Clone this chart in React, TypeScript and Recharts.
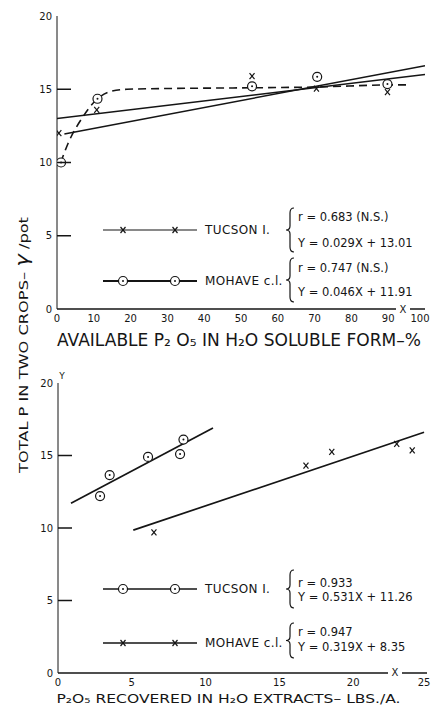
import React from 'react'
import { ComposedChart, Line, Scatter, XAxis, YAxis, Legend } from 'recharts'

// top panel: % of available P2O5 in water soluble form
const topPctTucson = [0.5, 10.8, 53, 70.5, 89.8]
const topTotalTucson = [12.0, 13.6, 15.9, 15.05, 14.8]
const topPctMohave = [1.1, 11, 53, 70.7, 89.8]
const topTotalMohave = [10.0, 14.35, 15.2, 15.85, 15.35]
const topFitTucsonX = [0, 100]
const topFitTucsonY = [13.0, 16.0]
const topFitMohaveX = [2, 100]
const topFitMohaveY = [11.95, 16.6]
const topCurveX = [1, 3, 7, 11, 14.5, 19, 30, 53, 70, 92.5, 95]
const topCurveY = [10, 11.3, 13.1, 14.35, 14.85, 15.0, 15.05, 15.1, 15.15, 15.3, 15.3]

// bottom panel: P2O5 recovered in water extracts, lbs/acre
const botLbsTucson = [2.85, 3.5, 6.1, 8.27, 8.5]
const botTotalTucson = [12.2, 13.65, 14.9, 15.1, 16.1]
const botLbsMohave = [6.5, 16.8, 18.55, 22.95, 24.0]
const botTotalMohave = [9.7, 14.3, 15.25, 15.8, 15.35]
const botFitTucsonX = [0.88, 10.5]
const botFitTucsonY = [11.7, 16.9]
const botFitMohaveX = [5.1, 24.8]
const botFitMohaveY = [9.85, 16.6]

const topXTicks = [0, 10, 20, 30, 40, 50, 60, 70, 80, 90, 100]
const botXTicks = [0, 5, 10, 15, 20, 25]
const yTicks = [0, 5, 10, 15, 20]
const innerYTicks = [5, 10, 15]

const pts = (xs: number[], ys: number[]) => xs.map((x, i) => ({ x, y: ys[i] }))

const INK = '#151515'
const FONT = '"DejaVu Sans", sans-serif'

const XMark = (p: any) => (
  <g stroke={INK} strokeWidth={1.2}>
    <line x1={p.cx - 2.5} y1={p.cy - 3} x2={p.cx + 2.5} y2={p.cy + 3} />
    <line x1={p.cx - 2.5} y1={p.cy + 3} x2={p.cx + 2.5} y2={p.cy - 3} />
  </g>
)

const OMark = (p: any) => (
  <g>
    <circle cx={p.cx} cy={p.cy} r={4.5} fill="#fff" stroke={INK} strokeWidth={1.2} />
    <circle cx={p.cx} cy={p.cy} r={1} fill={INK} />
  </g>
)

const LeftTick = (p: any) => (
  <g>
    <text x={p.x} y={p.y} dy="0.35em" textAnchor="end" fontSize={10} fontFamily={FONT} fill={INK}>
      {p.payload.value}
    </text>
    {p.payload.value > 0 && p.payload.value < 20 && (
      <line x1={p.x + 5} x2={p.x + 19} y1={p.y} y2={p.y} stroke={INK} strokeWidth={1.5} />
    )}
  </g>
)

const RightTick = (p: any) => (
  <line x1={p.x - 15} x2={p.x} y1={p.y} y2={p.y} stroke={INK} strokeWidth={1.5} />
)

const BottomTick = (p: any) => (
  <text x={p.x} y={p.y} dy="0.35em" textAnchor="middle" fontSize={10} fontFamily={FONT} fill={INK}>
    {p.payload.value}
  </text>
)

const Brace = ({ x, y0, y1 }: { x: number; y0: number; y1: number }) => {
  const m = (y0 + y1) / 2
  return (
    <path
      d={`M${x + 4},${y0} Q${x},${y0} ${x},${y0 + 5} L${x},${m - 4} Q${x},${m} ${x - 4},${m} Q${x},${m} ${x},${m + 4} L${x},${y1 - 5} Q${x},${y1} ${x + 4},${y1}`}
      fill="none"
      stroke={INK}
      strokeWidth={1.2}
    />
  )
}

type Row = { name: string; y: number; mark: 'x' | 'o'; width: number; r: string; eq: string; ry: number; ey: number; b0: number; b1: number }

const topRows: Row[] = [
  { name: 'TUCSON I.', y: 230, mark: 'x', width: 1.1, r: 'r = 0.683 (N.S.)', eq: 'Y = 0.029X + 13.01', ry: 217, ey: 243, b0: 208, b1: 252 },
  { name: 'MOHAVE c.l.', y: 281, mark: 'o', width: 2, r: 'r = 0.747 (N.S.)', eq: 'Y = 0.046X + 11.91', ry: 268, ey: 292, b0: 258, b1: 302 },
]
const botRows: Row[] = [
  { name: 'TUCSON I.', y: 239, mark: 'o', width: 1.6, r: 'r = 0.933', eq: 'Y = 0.531X + 11.26', ry: 233, ey: 247, b0: 220, b1: 258 },
  { name: 'MOHAVE c.l.', y: 293, mark: 'x', width: 1.6, r: 'r = 0.947', eq: 'Y = 0.319X + 8.35', ry: 282, ey: 297, b0: 273, b1: 308 },
]

const Key = ({ rows, w, h, axisX, axisY }: { rows: Row[]; w: number; h: number; axisX: [number, number]; axisY?: [number, number] }) => (
  <svg width={w} height={h} style={{ display: 'block' }}>
    {rows.map((row) => (
      <g key={row.name}>
        <line x1={103} x2={197} y1={row.y} y2={row.y} stroke={INK} strokeWidth={row.width} />
        {[123, 175].map((cx) => (row.mark === 'x' ? <XMark key={cx} cx={cx} cy={row.y} /> : <OMark key={cx} cx={cx} cy={row.y} />))}
        <text x={205} y={row.y} dy="0.35em" fontSize={12} fontFamily={FONT} fill={INK} letterSpacing={0.4}>{row.name}</text>
        <Brace x={290} y0={row.b0} y1={row.b1} />
        <text x={298} y={row.ry} dy="0.35em" fontSize={11.5} fontFamily={FONT} fill={INK}>{row.r}</text>
        <text x={298} y={row.ey} dy="0.35em" fontSize={11.5} fontFamily={FONT} fill={INK}>{row.eq}</text>
      </g>
    ))}
    <rect x={axisX[0] - 7} y={axisX[1] - 4} width={14} height={8} fill="#fff" />
    <text x={axisX[0]} y={axisX[1]} dy="0.35em" textAnchor="middle" fontSize={10} fontFamily={FONT} fill={INK}>X</text>
    {axisY && (
      <text x={axisY[0]} y={axisY[1]} dy="0.35em" textAnchor="middle" fontSize={9} fontFamily={FONT} fill={INK}>Y</text>
    )}
  </svg>
)

const TopTitle = (p: any) => {
  const vb = p.viewBox
  return (
    <text x={vb.x + vb.width / 2 - 2} y={vb.y + 31} dy="0.35em" textAnchor="middle" fontSize={17} fontFamily={FONT} fill={INK} textLength={364} lengthAdjust="spacingAndGlyphs">
      AVAILABLE P₂ O₅ IN H₂O SOLUBLE FORM–%
    </text>
  )
}

const BotTitle = (p: any) => {
  const vb = p.viewBox
  return (
    <text x={vb.x + vb.width / 2 - 14} y={vb.y + 25} dy="0.35em" textAnchor="middle" fontSize={13} fontFamily={FONT} fill={INK} textLength={344} lengthAdjust="spacingAndGlyphs">
      P₂O₅ RECOVERED IN H₂O EXTRACTS– LBS./A.
    </text>
  )
}

export default function App() {
  return (
    <div style={{ position: 'absolute', left: 0, top: 0, width: 432, height: 708, background: '#fff' }}>
      <div style={{ position: 'absolute', left: 0, top: 0 }}>
        <ComposedChart width={432} height={350} margin={{ top: 16, right: 7, bottom: 11, left: 17 }}>
          <XAxis xAxisId="b" type="number" dataKey="x" domain={[0, 100]} ticks={topXTicks} allowDataOverflow
            tickSize={0} tickMargin={9} tick={<BottomTick />} height={30} stroke={INK} strokeWidth={1.5}
            label={<TopTitle />} />
          <XAxis xAxisId="t" orientation="top" type="number" dataKey="x" domain={[0, 100]} tick={false} height={0} stroke={INK} strokeWidth={1.5} />
          <YAxis yAxisId="l" type="number" domain={[0, 20]} ticks={yTicks} width={40} tickSize={0} tickMargin={5} tick={<LeftTick />} stroke={INK} strokeWidth={1} />
          <YAxis yAxisId="r" orientation="right" type="number" domain={[0, 20]} ticks={innerYTicks} width={0} tickSize={0} tickMargin={0} tick={<RightTick />} stroke={INK} strokeWidth={1.2} />
          <Line xAxisId="b" yAxisId="l" data={pts(topFitTucsonX, topFitTucsonY)} dataKey="y" stroke={INK} strokeWidth={1.5} dot={false} isAnimationActive={false} />
          <Line xAxisId="b" yAxisId="l" data={pts(topFitMohaveX, topFitMohaveY)} dataKey="y" stroke={INK} strokeWidth={1.5} dot={false} isAnimationActive={false} />
          <Line xAxisId="b" yAxisId="l" type="monotone" data={pts(topCurveX, topCurveY)} dataKey="y" stroke={INK} strokeWidth={1.6} strokeDasharray="8 5" dot={false} isAnimationActive={false} />
          <Scatter xAxisId="b" yAxisId="l" name="TUCSON I." data={pts(topPctTucson, topTotalTucson)} dataKey="y" shape={<XMark />} isAnimationActive={false} />
          <Scatter xAxisId="b" yAxisId="l" name="MOHAVE c.l." data={pts(topPctMohave, topTotalMohave)} dataKey="y" shape={<OMark />} isAnimationActive={false} />
          <Legend layout="horizontal" verticalAlign="middle" align="center"
            wrapperStyle={{ position: 'absolute', left: 0, top: 0, width: 432, height: 350 }}
            content={() => <Key rows={topRows} w={432} h={350} axisX={[403, 309]} />} />
        </ComposedChart>
      </div>
      <div style={{ position: 'absolute', left: 0, top: 350 }}>
        <ComposedChart width={432} height={358} margin={{ top: 33, right: 5, bottom: 5, left: 18 }}>
          <XAxis xAxisId="b" type="number" dataKey="x" domain={[0, 25]} ticks={botXTicks} allowDataOverflow
            tickSize={0} tickMargin={9} tick={<BottomTick />} height={30} stroke={INK} strokeWidth={1.5}
            label={<BotTitle />} />
          <XAxis xAxisId="t" orientation="top" type="number" dataKey="x" domain={[0, 25]} tick={false} height={0} stroke={INK} strokeWidth={1.5} />
          <YAxis yAxisId="l" type="number" domain={[0, 20]} ticks={yTicks} width={40} tickSize={0} tickMargin={5} tick={<LeftTick />} stroke={INK} strokeWidth={1} />
          <YAxis yAxisId="r" orientation="right" type="number" domain={[0, 20]} ticks={innerYTicks} width={0} tickSize={0} tickMargin={0} tick={<RightTick />} stroke={INK} strokeWidth={1.2} />
          <Line xAxisId="b" yAxisId="l" data={pts(botFitTucsonX, botFitTucsonY)} dataKey="y" stroke={INK} strokeWidth={1.7} dot={false} isAnimationActive={false} />
          <Line xAxisId="b" yAxisId="l" data={pts(botFitMohaveX, botFitMohaveY)} dataKey="y" stroke={INK} strokeWidth={1.7} dot={false} isAnimationActive={false} />
          <Scatter xAxisId="b" yAxisId="l" name="TUCSON I." data={pts(botLbsTucson, botTotalTucson)} dataKey="y" shape={<OMark />} isAnimationActive={false} />
          <Scatter xAxisId="b" yAxisId="l" name="MOHAVE c.l." data={pts(botLbsMohave, botTotalMohave)} dataKey="y" shape={<XMark />} isAnimationActive={false} />
          <Legend layout="horizontal" verticalAlign="middle" align="center"
            wrapperStyle={{ position: 'absolute', left: 0, top: 0, width: 432, height: 358 }}
            content={() => <Key rows={botRows} w={432} h={358} axisX={[395, 322]} axisY={[62, 26]} />} />
        </ComposedChart>
      </div>
      <svg width={44} height={708} style={{ position: 'absolute', left: 0, top: 0 }}>
        <text transform="translate(23,345) rotate(-90)" dy="0.35em" textAnchor="middle" fontSize={13} fontFamily={FONT} fill={INK} textLength={256} lengthAdjust="spacingAndGlyphs">
          TOTAL P IN TWO CROPS–   <tspan fontStyle="italic" fontSize={17}>γ</tspan> /pot
        </text>
      </svg>
    </div>
  )
}
